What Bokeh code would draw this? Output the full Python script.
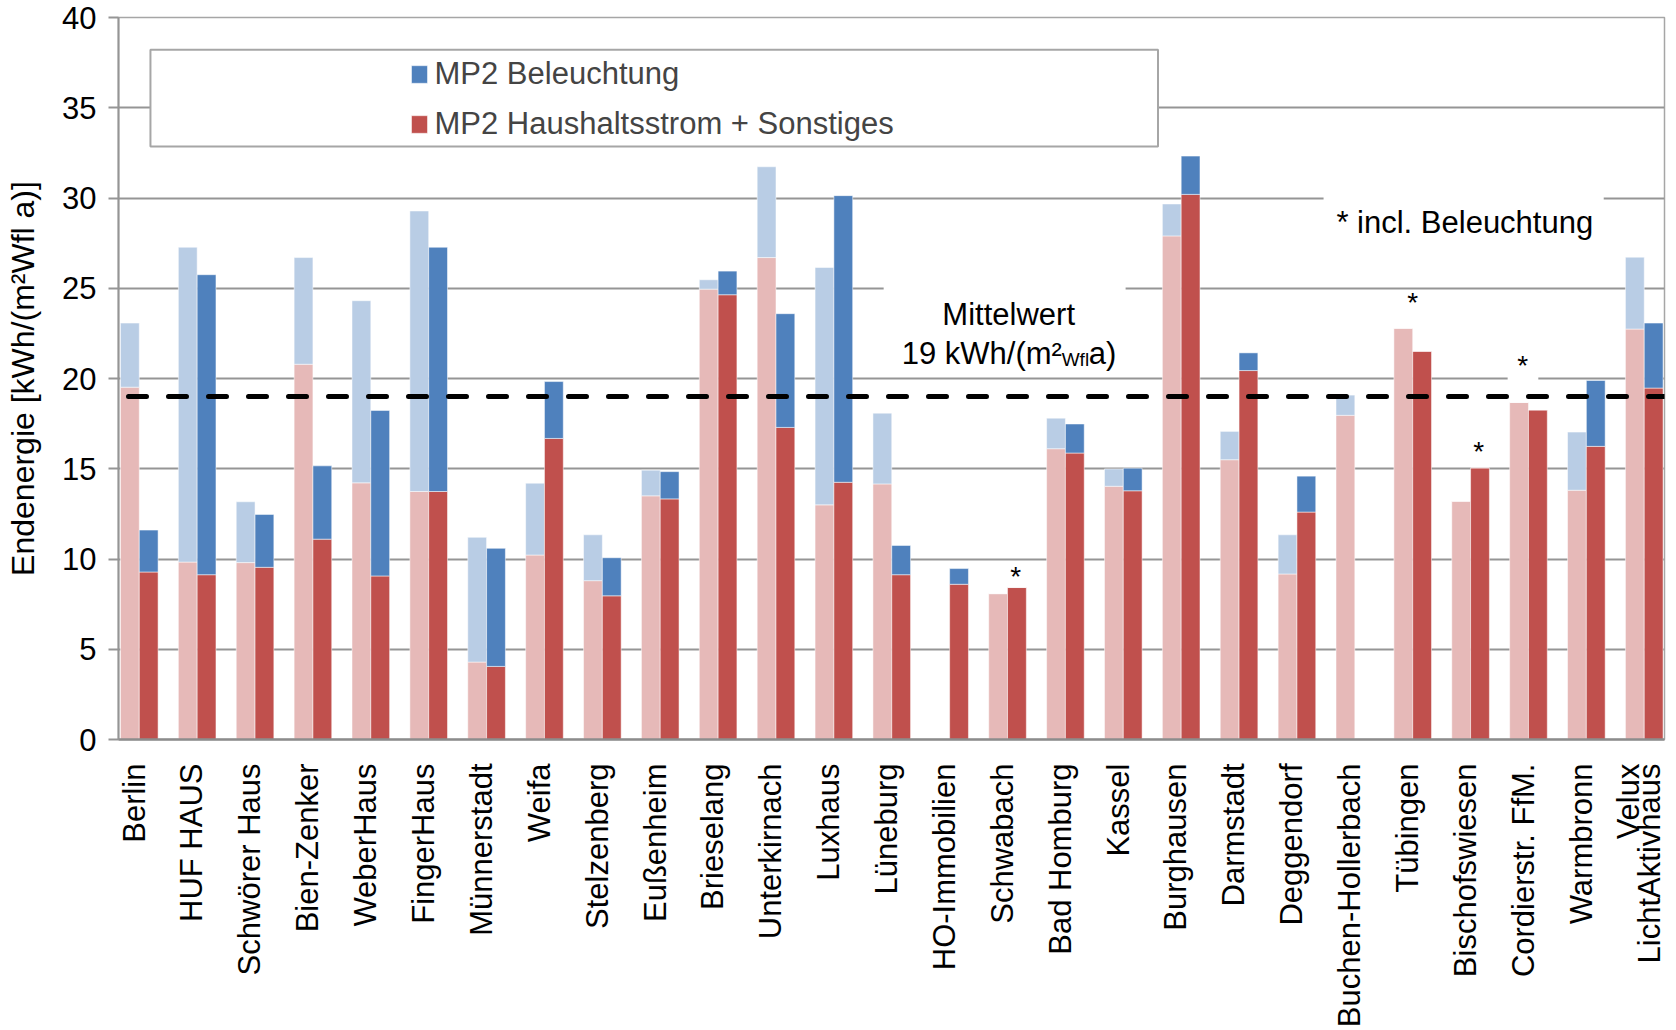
import math
from bokeh.plotting import figure
from bokeh.models import (ColumnDataSource, Range1d, FixedTicker, Span, Label,
                          BoxAnnotation, Legend, LegendItem)
from bokeh.embed import file_html
from bokeh.resources import INLINE

# ---------------- data ----------------
standorte = ["Berlin", "HUF HAUS", "Schwörer Haus", "Bien-Zenker", "WeberHaus",
             "FingerHaus", "Münnerstadt", "Weifa", "Stelzenberg", "Eußenheim",
             "Brieselang", "Unterkirnach", "Luxhaus", "Lüneburg", "HO-Immobilien",
             "Schwabach", "Bad Homburg", "Kassel", "Burghausen", "Darmstadt",
             "Deggendorf", "Buchen-Hollerbach", "Tübingen", "Bischofswiesen",
             "Cordierstr. FfM.", "Warmbronn", "Velux\nLichtAktivhaus"]

# comparison measurement (light bars)
vgl_haushalt = [19.52, 9.83, 9.80, 20.79, 14.22, 13.74, 4.29, 10.22, 8.80, 13.50,
                24.95, 26.70, 13.00, 14.16, 0.00, 8.08, 16.11, 14.03, 27.90, 15.50,
                9.17, 17.96, 22.78, 13.20, 18.67, 13.81, 22.74]
vgl_beleuchtung = [3.55, 17.44, 3.37, 5.91, 10.09, 15.54, 6.91, 3.98, 2.54, 1.42,
                   0.52, 5.03, 13.15, 3.92, 0.00, 0.00, 1.69, 0.96, 1.77, 1.57,
                   2.17, 1.12, 0.00, 0.00, 0.00, 3.22, 3.98]

# MP2 (dark bars)
mp2_haushalt = [9.28, 9.13, 9.54, 11.10, 9.06, 13.74, 4.05, 16.68, 7.96, 13.33,
                24.64, 17.29, 14.25, 9.13, 8.60, 8.42, 15.87, 13.78, 30.20, 20.44,
                12.60, 0.00, 21.51, 15.05, 18.26, 16.24, 19.47]
mp2_beleuchtung = [2.32, 16.62, 2.93, 4.06, 9.17, 13.53, 6.54, 3.15, 2.11, 1.51,
                   1.31, 6.30, 15.88, 1.62, 0.87, 0.00, 1.61, 1.25, 2.12, 0.98,
                   1.99, 0.00, 0.00, 0.00, 0.00, 3.65, 3.60]

mittelwert = 19
stern_standorte = ["Schwabach", "Tübingen", "Bischofswiesen", "Cordierstr. FfM."]
stern_hoehe = [9.33, 24.5, 16.25, 21.0]
y_ticks = [0, 5, 10, 15, 20, 25, 30, 35, 40]
y_titel = "Endenergie [kWh/(m²Wfl a)]"

# ---------------- style / layout ----------------
FONT = "Liberation Sans"
FS = "31px"
C_LBLUE, C_PINK, C_BLUE, C_RED = "#B9CDE5", "#E6B9B8", "#4F81BD", "#C0504D"
GRID = "#959595"
BAR_W = 0.325
LABEL_SHIFT = -0.09             # category labels sit slightly left of the bar pair
STERN_DX = [0.14, 0.0, 0.14, -0.1]

idx = list(range(len(standorte)))
src = ColumnDataSource(dict(
    xl=[i - BAR_W / 2 for i in idx],
    xd=[i + BAR_W / 2 for i in idx],
    vh=vgl_haushalt,
    vt=[a + b for a, b in zip(vgl_haushalt, vgl_beleuchtung)],
    mh=mp2_haushalt,
    mt=[a + b for a, b in zip(mp2_haushalt, mp2_beleuchtung)],
))

p = figure(width=1676, height=1030, output_backend="svg",
           toolbar_location=None, title=None,
           x_range=Range1d(-0.359, 26.35), y_range=Range1d(0, 40),
           min_border_left=118, min_border_right=12, min_border_top=17,
           min_border_bottom=289, background_fill_color="white",
           border_fill_color="white", outline_line_color="#a6a6a6",
           outline_line_width=1.5)

bar_line = dict(line_color="white", line_width=1, line_alpha=0.5)
p.vbar(x="xl", width=BAR_W, bottom=0, top="vh", fill_color=C_PINK, source=src, **bar_line)
p.vbar(x="xl", width=BAR_W, bottom="vh", top="vt", fill_color=C_LBLUE, source=src, **bar_line)
r_red = p.vbar(x="xd", width=BAR_W, bottom=0, top="mh", fill_color=C_RED, source=src, **bar_line)
r_blue = p.vbar(x="xd", width=BAR_W, bottom="mh", top="mt", fill_color=C_BLUE, source=src, **bar_line)

# axes
x_ticks = [i + LABEL_SHIFT for i in idx]
p.xaxis.ticker = FixedTicker(ticks=x_ticks)
p.xaxis.major_label_overrides = {t: n for t, n in zip(x_ticks, standorte)}
p.xaxis.major_label_orientation = math.pi / 2
p.xaxis.major_tick_line_color = None
p.xaxis.minor_tick_line_color = None
p.xaxis.axis_line_color = "#8c8c8c"
p.xaxis.axis_line_width = 2.5
p.xaxis.major_label_standoff = 18
p.xaxis.major_label_text_font = FONT
p.xaxis.major_label_text_font_size = FS
p.xaxis.major_label_text_color = "black"
p.xaxis.major_label_text_line_height = 0.6
p.xgrid.visible = False

p.yaxis.ticker = FixedTicker(ticks=y_ticks)
p.yaxis.major_tick_out = 10
p.yaxis.major_tick_in = 0
p.yaxis.major_tick_line_color = GRID
p.yaxis.major_tick_line_width = 2
p.yaxis.minor_tick_line_color = None
p.yaxis.axis_line_color = GRID
p.yaxis.axis_line_width = 2
p.yaxis.major_label_standoff = 12
p.yaxis.major_label_text_font = FONT
p.yaxis.major_label_text_font_size = FS
p.yaxis.major_label_text_color = "black"
p.yaxis.axis_label = y_titel
p.yaxis.axis_label_text_font = FONT
p.yaxis.axis_label_text_font_size = "32px"
p.yaxis.axis_label_text_font_style = "normal"
p.yaxis.axis_label_text_color = "black"
p.yaxis.axis_label_standoff = 18
p.ygrid.ticker = FixedTicker(ticks=y_ticks)
p.ygrid.grid_line_color = GRID
p.ygrid.grid_line_width = 2

# white boxes (legend frame, text backgrounds)
p.add_layout(BoxAnnotation(left=0.193, right=17.6, bottom=32.85, top=38.22,
                           fill_color="white", fill_alpha=1,
                           line_color="#a6a6a6", line_alpha=1, line_width=2))
p.add_layout(BoxAnnotation(left=12.86, right=17.04, bottom=20.3, top=25.4,
                           fill_color="white", fill_alpha=1, line_alpha=0))
p.add_layout(BoxAnnotation(left=20.46, right=25.3, bottom=27.6, top=30.4,
                           fill_color="white", fill_alpha=1, line_alpha=0))
p.add_layout(BoxAnnotation(left=23.64, right=24.17, bottom=19.8, top=21.9,
                           fill_color="white", fill_alpha=1, line_alpha=0))

# mean line
p.add_layout(Span(location=mittelwert, dimension="width", line_color="black",
                  line_width=5, line_dash="18 22", line_cap="round",
                  line_dash_offset=30))

txt = dict(text_font=FONT, text_color="black", text_baseline="alphabetic")

# Mittelwert annotation
p.add_layout(Label(x=15.02, y=23.57, text="Mittelwert", text_align="center",
                   text_font_size=FS, **txt))
p.add_layout(Label(x=15.02, y=21.38, x_offset=-107, text=f"{mittelwert} kWh/(m²",
                   text_align="left", text_font_size=FS, **txt))
p.add_layout(Label(x=15.02, y=21.38, x_offset=53, y_offset=-6, text="Wfl",
                   text_align="left", text_font_size="19px", **txt))
p.add_layout(Label(x=15.02, y=21.38, x_offset=80, text="a)",
                   text_align="left", text_font_size=FS, **txt))

p.add_layout(Label(x=22.9, y=28.63, text="* incl. Beleuchtung", text_align="center",
                   text_font_size=FS, **txt))

for name, h, dx in zip(stern_standorte, stern_hoehe, STERN_DX):
    p.add_layout(Label(x=standorte.index(name) + dx, y=h, y_offset=-5, text="*",
                       text_align="center", text_font_size="28px", **txt))

# legend
legend = Legend(items=[LegendItem(label="MP2 Beleuchtung", renderers=[r_blue]),
                       LegendItem(label="MP2 Haushaltsstrom + Sonstiges", renderers=[r_red])],
                location=(290.5, 597), orientation="vertical", border_line_alpha=0,
                background_fill_alpha=0, padding=0, margin=0, spacing=14,
                glyph_width=20, glyph_height=22, label_standoff=6,
                label_text_font=FONT, label_text_font_size=FS, label_height=30)
p.add_layout(legend)

open("out.html", "w").write(file_html(p, INLINE))
